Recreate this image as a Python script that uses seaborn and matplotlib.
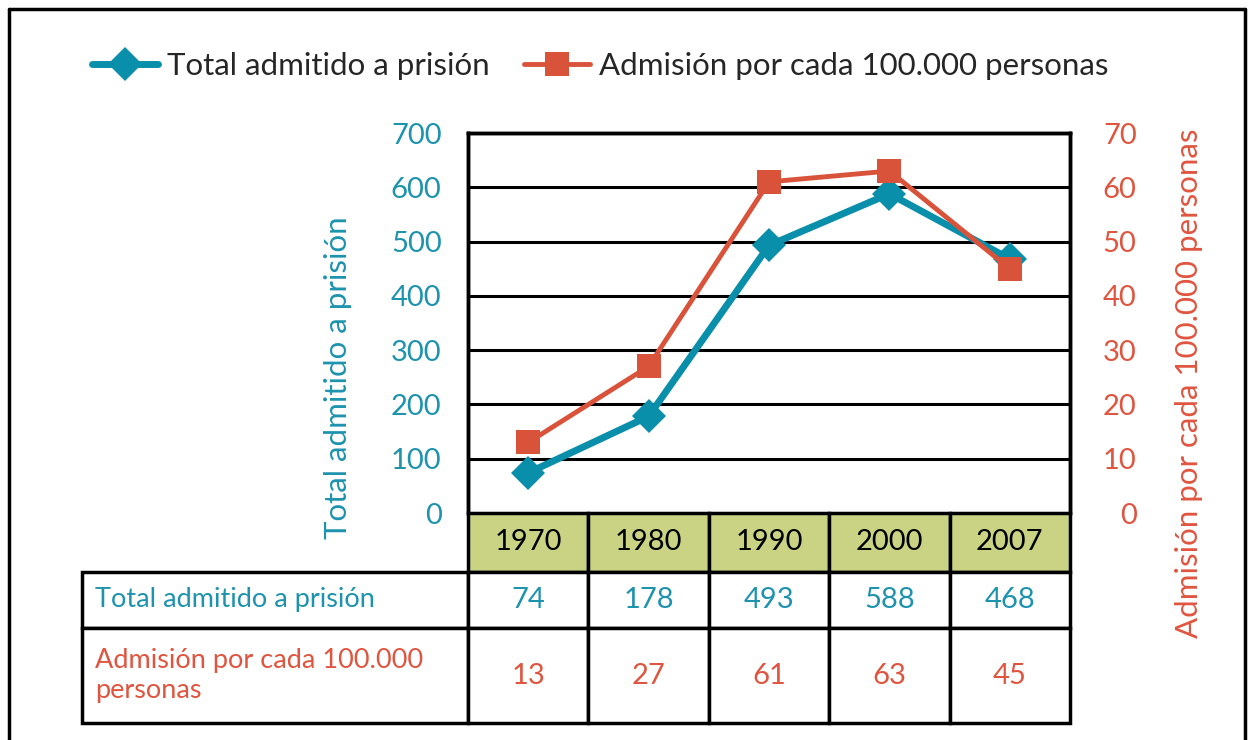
import matplotlib
matplotlib.use("Agg")
import matplotlib.pyplot as plt
from matplotlib.lines import Line2D
import seaborn as sns
import pandas as pd

years = ["1970", "1980", "1990", "2000", "2007"]
total_admitido = [74, 178, 493, 588, 468]
admision_100k = [13, 27, 61, 63, 45]
left_ticks = [0, 100, 200, 300, 400, 500, 600, 700]
right_ticks = [0, 10, 20, 30, 40, 50, 60, 70]
label_total = "Total admitido a prisión"
label_rate = "Admisión por cada 100.000 personas"
label_rate_table = "Admisión por cada 100.000\npersonas"

TEAL = "#0a8fab"
TEAL_TXT = "#1d93ae"
RED = "#d9533b"
RED_TXT = "#e0553f"
GREEN = "#c9d383"

sns.set_style("white")
plt.rcParams["font.family"] = ["Lato", "DejaVu Sans"]

W, H = 1255, 740
fig = plt.figure(figsize=(W / 100, H / 100), dpi=100)

x0, x1, y0, y1 = 468, 1070, 133, 513
ax = fig.add_axes([x0 / W, 1 - y1 / H, (x1 - x0) / W, (y1 - y0) / H])
ax2 = ax.twinx()

df = pd.DataFrame({"year": years, "total": total_admitido, "rate": admision_100k})

sns.lineplot(data=df, x="year", y="total", ax=ax, color=TEAL, lw=5,
             marker="D", markersize=17, markeredgewidth=0, sort=False, zorder=5)
sns.lineplot(data=df, x="year", y="rate", ax=ax2, color=RED, lw=3.5,
             marker="s", markersize=17, markeredgewidth=0, sort=False, zorder=5)

ax.set_xlim(-0.5, len(years) - 0.5)
ax.set_ylim(0, 700)
ax2.set_ylim(0, 70)
ax.set_yticks(left_ticks)
ax2.set_yticks(right_ticks)
ax.set_xticks([])
ax.set_xlabel("")
ax2.set_xlabel("")

ax.grid(axis="y", color="black", lw=2.2)
ax.grid(axis="x", visible=False)
ax2.grid(False)
ax.set_axisbelow(True)

for a in (ax, ax2):
    for s in a.spines.values():
        s.set_color("black")
        s.set_linewidth(2.5)
    a.spines["bottom"].set_visible(False)

ax.tick_params(axis="y", length=0, pad=19, labelsize=21, labelcolor=TEAL_TXT)
ax2.tick_params(axis="y", length=0, pad=48, labelsize=21, labelcolor=RED_TXT)
for t in ax2.get_yticklabels():
    t.set_horizontalalignment("right")

ax.set_ylabel(label_total, fontsize=22.5, color=TEAL_TXT)
ax.yaxis.set_label_coords(-0.193, 0.355)
ax2.set_ylabel(label_rate, fontsize=22.5, color=RED_TXT, rotation=90)
ax2.yaxis.set_label_coords(1.174, 0.342)

# Table below the plot, in its own axes
tb_left, tb_bottom = 82, 723
tax = fig.add_axes([tb_left / W, 1 - tb_bottom / H, (x1 - tb_left) / W, (tb_bottom - y1) / H])
tax.set_axis_off()
rows = [[""] + years,
        [label_total] + [str(v) for v in total_admitido],
        [label_rate_table] + [str(v) for v in admision_100k]]
tbl = tax.table(cellText=rows, cellLoc="center", bbox=[0, 0, 1, 1])
tbl.auto_set_font_size(False)
row_h = {0: 59, 1: 56, 2: 95}
for (r, c), cell in tbl.get_celld().items():
    cell.set_linewidth(2.5)
    cell.set_edgecolor("black")
    cell.set_height(row_h[r])
    cell.set_width(386 if c == 0 else 120.4)
    txt = cell.get_text()
    txt.set_fontsize(21)
    if r == 0:
        if c == 0:
            cell.visible_edges = ""
            cell.set_facecolor("none")
        else:
            cell.set_facecolor(GREEN)
        txt.set_color("black")
    else:
        col = TEAL_TXT if r == 1 else RED_TXT
        txt.set_color(col)
        if c == 0:
            txt.set_fontsize(19.5)
            txt.set_horizontalalignment("left")
            cell._loc = "left"
            cell.PAD = 0.033
            txt.set_linespacing(1.25)

# Legend
handles = [
    Line2D([], [], color=TEAL, lw=5, marker="D", markersize=17, markeredgewidth=0),
    Line2D([], [], color=RED, lw=3.5, marker="s", markersize=17, markeredgewidth=0),
]
fig.legend(handles, [label_total, label_rate], loc="upper left",
           bbox_to_anchor=(64 / W, 1 - 24 / H), ncol=2, frameon=False,
           fontsize=22.5, handlelength=2.1, handletextpad=0.3, columnspacing=1.1)

# Outer frame
for xs, ys in [([9 / W, 9 / W], [0, 1 - 9 / H]),
               ([9 / W, 1245 / W], [1 - 9 / H, 1 - 9 / H]),
               ([1245 / W, 1245 / W], [0, 1 - 9 / H])]:
    fig.add_artist(Line2D(xs, ys, color="black", lw=2.5, transform=fig.transFigure))

fig.savefig("out.png", dpi=100)
